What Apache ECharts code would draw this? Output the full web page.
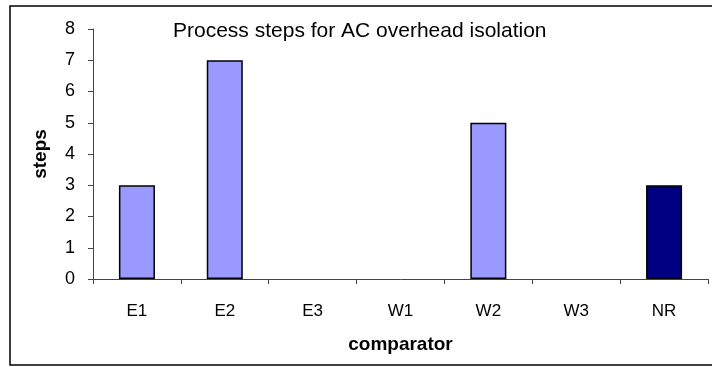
<!DOCTYPE html>
<html><head><meta charset="utf-8">
<script src="https://cdn.jsdelivr.net/npm/echarts@6/dist/echarts.min.js"></script>
<style>html,body{margin:0;padding:0;background:#fff}#c{width:712px;height:367px}</style>
</head><body><div id="c"></div>
<script>
const categories = ['E1','E2','E3','W1','W2','W3','NR'];
const stepValues = [3, 7, 0, 0, 5, 0, 3];
const barColors = ['#9999FF','#9999FF','#9999FF','#9999FF','#9999FF','#9999FF','#000080'];
const yTicks = [0,1,2,3,4,5,6,7,8];

const chart = echarts.init(document.getElementById('c'), null, {renderer:'canvas'});
const font = '"Liberation Sans", Arial, sans-serif';
chart.setOption({
  animation: false,
  backgroundColor: '#fff',
  title: {
    text: 'Process steps for AC overhead isolation',
    left: 173, top: 21, padding: 0,
    textStyle: {fontFamily: font, fontSize: 21, fontWeight: 'normal', color: '#000'}
  },
  graphic: [{
    type: 'rect', shape: {x: 10, y: 6, width: 720, height: 359},
    style: {fill: 'none', stroke: '#000', lineWidth: 1.5}, z: 100
  }],
  grid: {left: 93, right: 4, top: 29, bottom: 88},
  xAxis: {
    type: 'category', data: categories,
    name: 'comparator', nameLocation: 'middle', nameGap: 56,
    nameTextStyle: {fontFamily: font, fontSize: 19, fontWeight: 'bold', color: '#000'},
    axisLine: {lineStyle: {color: '#444', width: 1}},
    axisTick: {show: true, length: 5, lineStyle: {color: '#444'}},
    axisLabel: {fontFamily: font, fontSize: 17, color: '#000', margin: 24},
    splitLine: {show: false}
  },
  yAxis: {
    type: 'value', min: yTicks[0], max: yTicks[yTicks.length-1], interval: 1,
    name: 'steps', nameLocation: 'middle', nameGap: 43, nameRotate: 90,
    nameTextStyle: {fontFamily: font, fontSize: 19, fontWeight: 'bold', color: '#000'},
    axisLine: {show: true, lineStyle: {color: '#444', width: 1}},
    axisTick: {show: true, length: 5, lineStyle: {color: '#444'}},
    axisLabel: {fontFamily: font, fontSize: 18, color: '#000', margin: 18},
    splitLine: {show: false}
  },
  series: [{
    type: 'bar', barWidth: '41%',
    data: stepValues.map((v, i) => ({value: v, itemStyle: {color: barColors[i], borderWidth: v === 0 ? 0 : 1.5}})),
    itemStyle: {borderColor: '#000', borderWidth: 1.5}
  }]
});
</script></body></html>
